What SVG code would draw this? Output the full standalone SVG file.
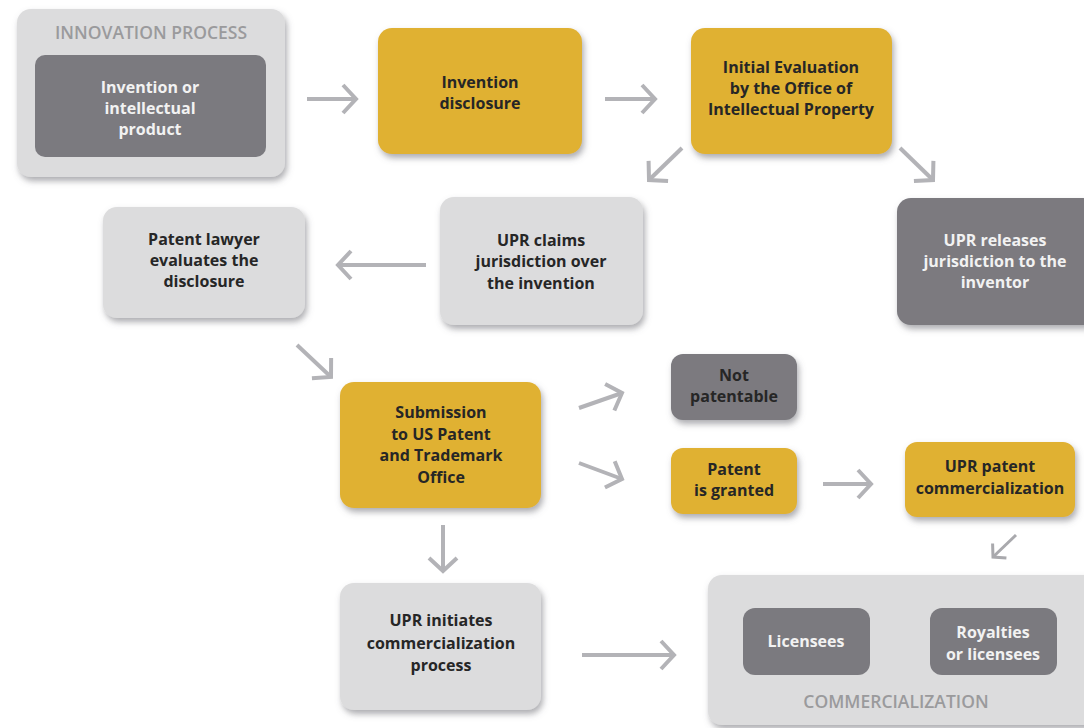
<svg xmlns="http://www.w3.org/2000/svg" width="1084" height="728" viewBox="0 0 1084 728">
<defs>
<filter id="sh" x="-10%" y="-10%" width="125%" height="135%">
<feDropShadow dx="2" dy="4" stdDeviation="3" flood-color="#6a6a70" flood-opacity="0.55"/>
</filter>
<marker id="ah" viewBox="0 0 18 32" refX="15" refY="16" markerWidth="18" markerHeight="32" markerUnits="userSpaceOnUse" orient="auto">
<path d="M2,2 L15,16 L2,30" fill="none" stroke="#b3b3b7" stroke-width="4"/>
</marker>
<marker id="ahs" viewBox="0 0 14 24" refX="11" refY="12" markerWidth="14" markerHeight="24" markerUnits="userSpaceOnUse" orient="auto">
<path d="M2,2 L11,12 L2,22" fill="none" stroke="#a9a9ad" stroke-width="3"/>
</marker>
<style>
.lg{fill:#dcdcdd}
.dg{fill:#7b7a7f}
.yl{fill:#e0b133}
.t{font-family:"Open Sans","Liberation Sans",sans-serif;font-weight:700;font-size:16px;text-anchor:middle}
.dk{fill:#262626}
.wt{fill:#f2f2f2}
.cap{font-family:"Open Sans","Liberation Sans",sans-serif;font-weight:600;font-size:17.5px;text-anchor:middle;fill:#9a9a9c}
.ar{stroke:#b3b3b7;stroke-width:4;fill:none;marker-end:url(#ah)}
.ars{stroke:#a9a9ad;stroke-width:3;fill:none;marker-end:url(#ahs)}
</style>
</defs>
<rect width="1084" height="728" fill="#ffffff"/>

<g id="innovation">
<rect class="lg" x="17" y="9" width="268" height="168" rx="14" filter="url(#sh)"/>
<text class="cap" x="151" y="39">INNOVATION PROCESS</text>
<rect class="dg" x="35" y="55" width="231" height="102" rx="10"/>
<text class="t wt" x="150" y="93">Invention or</text>
<text class="t wt" x="150" y="114">intellectual</text>
<text class="t wt" x="150" y="135">product</text>
</g>

<g id="disclosure">
<rect class="yl" x="378" y="28" width="204" height="126" rx="14" filter="url(#sh)"/>
<text class="t dk" x="480" y="88">Invention</text>
<text class="t dk" x="480" y="109">disclosure</text>
</g>

<g id="evaluation">
<rect class="yl" x="691" y="28" width="201" height="126" rx="14" filter="url(#sh)"/>
<text class="t dk" x="791" y="73">Initial Evaluation</text>
<text class="t dk" x="791" y="94">by the Office of</text>
<text class="t dk" x="791" y="115">Intellectual Property</text>
</g>

<g id="releases">
<rect class="dg" x="897" y="198" width="200" height="127" rx="14" filter="url(#sh)"/>
<text class="t wt" x="995" y="246">UPR  releases</text>
<text class="t wt" x="995" y="267">jurisdiction to the</text>
<text class="t wt" x="995" y="288">inventor</text>
</g>

<g id="claims">
<rect class="lg" x="440" y="197" width="203" height="128" rx="14" filter="url(#sh)"/>
<text class="t dk" x="541" y="246">UPR claims</text>
<text class="t dk" x="541" y="267">jurisdiction over</text>
<text class="t dk" x="541" y="289">the invention</text>
</g>

<g id="lawyer">
<rect class="lg" x="103" y="207" width="202" height="111" rx="14" filter="url(#sh)"/>
<text class="t dk" x="204" y="245">Patent lawyer</text>
<text class="t dk" x="204" y="266">evaluates the</text>
<text class="t dk" x="204" y="287">disclosure</text>
</g>

<g id="submission">
<rect class="yl" x="340" y="382" width="201" height="126" rx="14" filter="url(#sh)"/>
<text class="t dk" x="441" y="418">Submission</text>
<text class="t dk" x="441" y="440">to US Patent</text>
<text class="t dk" x="441" y="461">and Trademark</text>
<text class="t dk" x="441" y="483">Office</text>
</g>

<g id="notpatentable">
<rect class="dg" x="671" y="354" width="126" height="66" rx="12" filter="url(#sh)"/>
<text class="t dk" x="734" y="381">Not</text>
<text class="t dk" x="734" y="402">patentable</text>
</g>

<g id="granted">
<rect class="yl" x="671" y="448" width="126" height="66" rx="12" filter="url(#sh)"/>
<text class="t dk" x="734" y="475">Patent</text>
<text class="t dk" x="734" y="496">is granted</text>
</g>

<g id="upr-commercialization">
<rect class="yl" x="905" y="442" width="170" height="75" rx="12" filter="url(#sh)"/>
<text class="t dk" x="990" y="472">UPR patent</text>
<text class="t dk" x="990" y="494">commercialization</text>
</g>

<g id="initiates">
<rect class="lg" x="340" y="583" width="201" height="127" rx="14" filter="url(#sh)"/>
<text class="t dk" x="441" y="626">UPR initiates</text>
<text class="t dk" x="441" y="649">commercialization</text>
<text class="t dk" x="441" y="671">process</text>
</g>

<g id="commercialization">
<rect class="lg" x="708" y="575" width="390" height="150" rx="14" filter="url(#sh)"/>
<rect class="dg" x="743" y="608" width="127" height="67" rx="12"/>
<text class="t wt" x="806" y="647">Licensees</text>
<rect class="dg" x="930" y="608" width="127" height="67" rx="12"/>
<text class="t wt" x="993" y="638">Royalties</text>
<text class="t wt" x="993" y="660">or licensees</text>
<text class="cap" x="896" y="708">COMMERCIALIZATION</text>
</g>

<g id="connectors">
<line class="ar" x1="307" y1="99" x2="356" y2="99"/>
<line class="ar" x1="605" y1="99" x2="655" y2="99"/>
<line class="ar" x1="682" y1="148" x2="649" y2="180"/>
<line class="ar" x1="900" y1="148" x2="933" y2="180"/>
<line class="ar" x1="426" y1="265" x2="338" y2="265"/>
<line class="ar" x1="297" y1="345" x2="331" y2="377"/>
<line class="ar" x1="579" y1="408" x2="622" y2="393"/>
<line class="ar" x1="579" y1="463" x2="622" y2="479"/>
<line class="ar" x1="823" y1="484" x2="871" y2="484"/>
<line class="ars" x1="1016" y1="535" x2="993" y2="557"/>
<line class="ar" x1="443" y1="525" x2="443" y2="571"/>
<line class="ar" x1="582" y1="655" x2="674" y2="655"/>
</g>
</svg>
